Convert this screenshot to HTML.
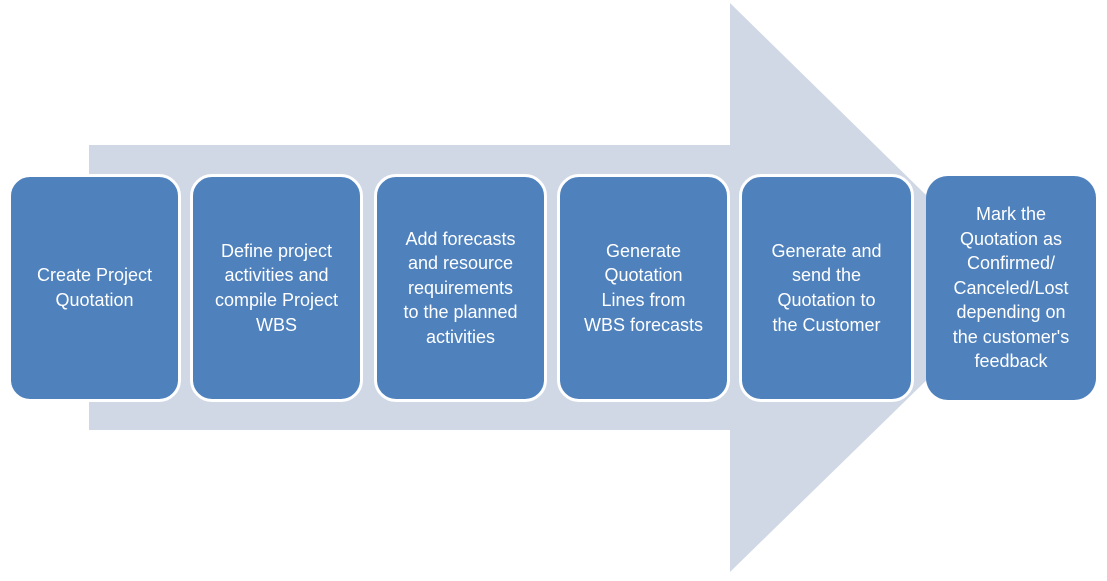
<!DOCTYPE html>
<html><head><style>
body{margin:0;width:1107px;height:581px;background:#fff;position:relative;overflow:hidden;font-family:"Liberation Sans",sans-serif}
svg{position:absolute;left:0;top:0}
.b{position:absolute;top:174px;height:222px;width:167px;background:#4f81bd;border:3px solid #fff;border-radius:22px;display:flex;align-items:center;justify-content:center;text-align:center;color:#fff;font-size:18px;line-height:24.6px;white-space:nowrap;box-sizing:content-box}
</style></head><body>
<svg width="1107" height="581"><polygon points="89,145 730,145 730,3 1021,288 730,572 730,430 89,430" fill="#d0d8e6"/></svg>
<div class="b" style="left:8px">Create Project<br>Quotation</div>
<div class="b" style="left:190px">Define project<br>activities and<br>compile Project<br>WBS</div>
<div class="b" style="left:374px">Add forecasts<br>and resource<br>requirements<br>to the planned<br>activities</div>
<div class="b" style="left:557px">Generate<br>Quotation<br>Lines from<br>WBS forecasts</div>
<div class="b" style="left:739px;width:169px">Generate and<br>send the<br>Quotation to<br>the Customer</div>
<div class="b" style="left:926px;top:176px;width:170px;height:224px;border:none">Mark the<br>Quotation as<br>Confirmed/<br>Canceled/Lost<br>depending on<br>the customer's<br>feedback</div>
</body></html>
